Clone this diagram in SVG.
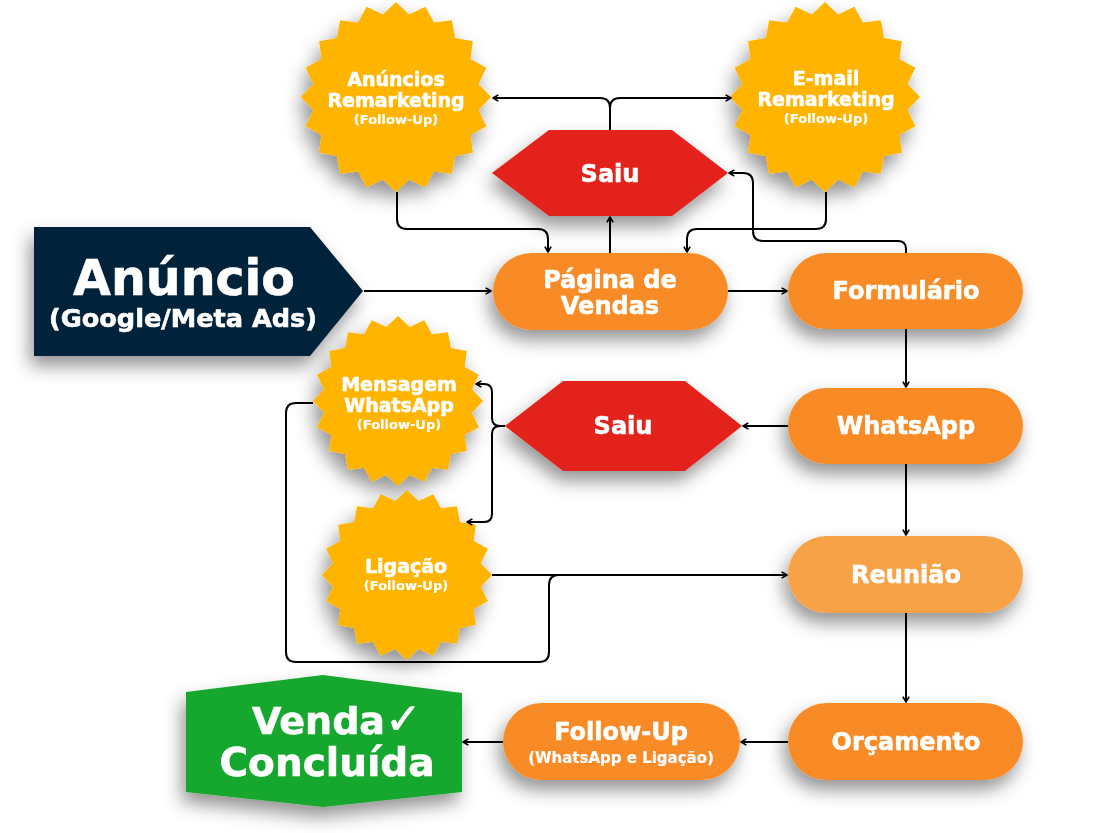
<svg xmlns="http://www.w3.org/2000/svg" xmlns:xlink="http://www.w3.org/1999/xlink" width="1110" height="833" viewBox="0 0 1110 833">
<defs>
<style>
.t{font-family:"DejaVu Sans","Liberation Sans",sans-serif;font-weight:bold;fill:#ffffff;stroke:#ffffff;stroke-width:0.6;text-anchor:middle}
.s{stroke-width:0.2}
.pill{fill:#F98B26}
.star{fill:#FFB400}
.red{fill:#E3211A}
.c{fill:none;stroke:#000;stroke-width:2;stroke-linejoin:round}
.a{marker-end:url(#arr)}
</style>
<filter id="sh" x="-40%" y="-40%" width="180%" height="190%">
<feDropShadow dx="-4" dy="10" stdDeviation="9" flood-color="#000" flood-opacity="0.42"/>
</filter>
<marker id="arr" viewBox="0 0 10 10" refX="9" refY="5" markerWidth="9" markerHeight="9" orient="auto" markerUnits="userSpaceOnUse">
<path d="M3,1.5 L9,5 L3,8.5" fill="none" stroke="#000" stroke-width="1.8" stroke-linejoin="round"/>
</marker>
<polygon id="starShape" points="0,-100 13.76,-86.92 30.9,-95.11 39.95,-78.41 58.78,-80.9 62.23,-62.23 80.9,-58.78 78.41,-39.95 95.11,-30.9 86.92,-13.76 100,0 86.92,13.76 95.11,30.9 78.41,39.95 80.9,58.78 62.23,62.23 58.78,80.9 39.95,78.41 30.9,95.11 13.76,86.92 0,100 -13.76,86.92 -30.9,95.11 -39.95,78.41 -58.78,80.9 -62.23,62.23 -80.9,58.78 -78.41,39.95 -95.11,30.9 -86.92,13.76 -100,0 -86.92,-13.76 -95.11,-30.9 -78.41,-39.95 -80.9,-58.78 -62.23,-62.23 -58.78,-80.9 -39.95,-78.41 -30.9,-95.11 -13.76,-86.92"/>
</defs>
<rect width="1110" height="833" fill="#ffffff"/>

<g id="anuncios-remarketing" filter="url(#sh)">
<use xlink:href="#starShape" class="star" transform="translate(396,97) scale(0.95)"/>
<text class="t" x="396" y="86" font-size="19">Anúncios</text>
<text class="t" x="396" y="107" font-size="19">Remarketing</text>
<text class="t s" x="396" y="124" font-size="13">(Follow-Up)</text>
</g>

<g id="email-remarketing" filter="url(#sh)">
<use xlink:href="#starShape" class="star" transform="translate(825,97) scale(0.95)"/>
<text class="t" x="826" y="85" font-size="19">E-mail</text>
<text class="t" x="826" y="106" font-size="19">Remarketing</text>
<text class="t s" x="826" y="123" font-size="13">(Follow-Up)</text>
</g>

<g id="saiu-top" filter="url(#sh)">
<polygon class="red" points="492,173 549,130 672,130 728,173 672,216 549,216"/>
<text class="t" x="610" y="182" font-size="24">Saiu</text>
</g>

<g id="anuncio" filter="url(#sh)">
<polygon fill="#03223A" points="34,227 310,227 363,291 310,356 34,356"/>
<text class="t" x="184" y="295" font-size="49">Anúncio</text>
<text class="t" x="183" y="327" font-size="24" textLength="268" lengthAdjust="spacingAndGlyphs">(Google/Meta Ads)</text>
</g>

<g id="pagina-vendas" filter="url(#sh)">
<rect class="pill" x="493" y="253" width="235" height="77" rx="38.5"/>
<text class="t" x="610" y="288" font-size="24">Página de</text>
<text class="t" x="610" y="314" font-size="24">Vendas</text>
</g>

<g id="formulario" filter="url(#sh)">
<rect class="pill" x="788" y="253" width="235" height="76" rx="38"/>
<text class="t" x="906" y="299" font-size="24">Formulário</text>
</g>

<g id="mensagem-whatsapp" filter="url(#sh)">
<use xlink:href="#starShape" class="star" transform="translate(398,401) scale(0.85)"/>
<text class="t" x="399" y="391" font-size="19">Mensagem</text>
<text class="t" x="399" y="412" font-size="19">WhatsApp</text>
<text class="t s" x="399" y="429" font-size="13">(Follow-Up)</text>
</g>

<g id="saiu-mid" filter="url(#sh)">
<polygon class="red" points="505,426 563,381 685,381 742,426 685,471 563,471"/>
<text class="t" x="623" y="434" font-size="24">Saiu</text>
</g>

<g id="whatsapp" filter="url(#sh)">
<rect class="pill" x="788" y="388" width="235" height="76" rx="38"/>
<text class="t" x="906" y="434" font-size="24">WhatsApp</text>
</g>

<g id="ligacao" filter="url(#sh)">
<use xlink:href="#starShape" class="star" transform="translate(407,575) scale(0.85)"/>
<text class="t" x="406" y="573" font-size="19">Ligação</text>
<text class="t s" x="406" y="590" font-size="13">(Follow-Up)</text>
</g>

<g id="reuniao" filter="url(#sh)">
<rect fill="#F8A246" x="788" y="536" width="235" height="77" rx="38.5"/>
<text class="t" x="906" y="583" font-size="24">Reunião</text>
</g>

<g id="orcamento" filter="url(#sh)">
<rect class="pill" x="788" y="703" width="235" height="77" rx="38.5"/>
<text class="t" x="906" y="750" font-size="24">Orçamento</text>
</g>

<g id="follow-up" filter="url(#sh)">
<rect class="pill" x="503" y="703" width="237" height="77" rx="38.5"/>
<text class="t" x="621" y="740" font-size="24">Follow-Up</text>
<text class="t s" x="621" y="763" font-size="15">(WhatsApp e Ligação)</text>
</g>

<g id="venda-concluida" filter="url(#sh)">
<polygon fill="#17A82D" points="186,692 323,675 462,693 462,792 323,807 186,792"/>
<text class="t" x="252" y="734" font-size="38" style="text-anchor:start">Venda<tspan font-size="44">✓</tspan></text>
<text class="t" x="327" y="776" font-size="39">Concluída</text>
</g>

<g id="connectors">
<path class="c a" d="M610,130 V108 Q610,98 600,98 H493"/>
<path class="c a" d="M610,130 V108 Q610,98 620,98 H731"/>
<path class="c a" d="M397,192 V219 Q397,229 407,229 H538 Q548,229 548,239 V252"/>
<path class="c a" d="M826,192 V219 Q826,229 816,229 H697 Q687,229 687,239 V252"/>
<path class="c a" d="M610,253 V217"/>
<path class="c a" d="M906,253 V249 Q906,241 898,241 H763 Q753,241 753,231 V183 Q753,173 743,173 H729"/>
<path class="c a" d="M364,291 H491"/>
<path class="c a" d="M728,291 H787"/>
<path class="c a" d="M906,329 V387"/>
<path class="c a" d="M788,426 H743"/>
<path class="c a" d="M505,426 H500 Q492,426 492,418 V392 Q492,384 484,384 H476"/>
<path class="c a" d="M505,426 H500 Q492,426 492,434 V514 Q492,522 484,522 H467"/>
<path class="c a" d="M492,575 H787"/>
<path class="c" d="M313,403 H296 Q286,403 286,413 V652 Q286,662 296,662 H539 Q549,662 549,652 V585 Q549,575 559,575 H600"/>
<path class="c a" d="M906,464 V535"/>
<path class="c a" d="M906,613 V702"/>
<path class="c a" d="M788,742 H741"/>
<path class="c a" d="M503,742 H463"/>
</g>
</svg>
